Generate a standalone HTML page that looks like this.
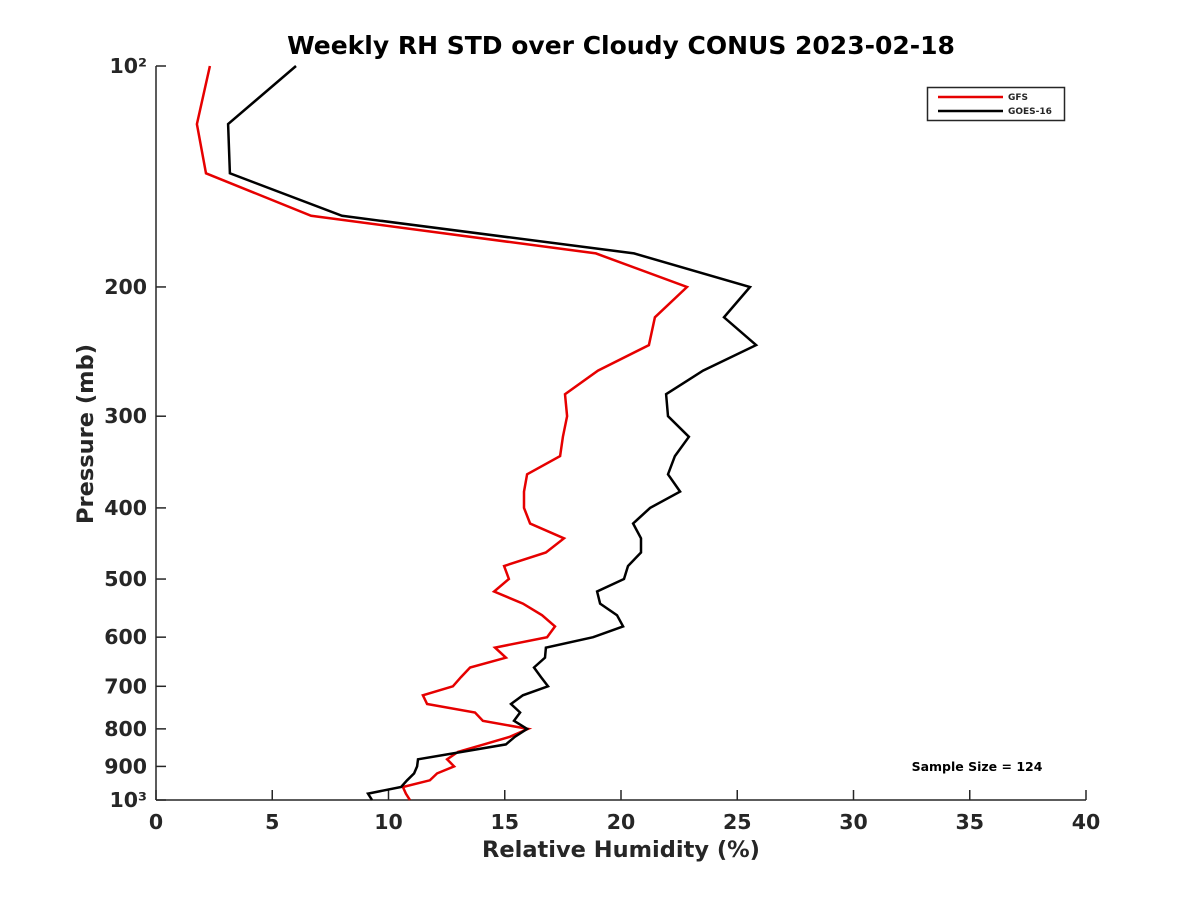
<!DOCTYPE html>
<html><head><meta charset="utf-8"><style>
html,body{margin:0;padding:0;background:#fff;}
svg text{font-family:"DejaVu Sans","Liberation Sans",sans-serif;font-weight:bold;fill:#262626;}
</style></head><body>
<svg id="chart" width="1200" height="900" xmlns="http://www.w3.org/2000/svg">
<rect width="1200" height="900" fill="#fff"/>
<text x="621" y="54" font-size="25" text-anchor="middle" style="fill:#000">Weekly RH STD over Cloudy CONUS 2023-02-18</text>
<g id="axes"></g>
<g id="series"></g>
<g>
<rect x="927.5" y="87.5" width="137" height="33" fill="#fff" stroke="#262626" stroke-width="1.5"/>
<line x1="938" y1="97" x2="1003" y2="97" stroke="#e60000" stroke-width="2.5"/>
<text x="1008" y="100" font-size="9">GFS</text>
<line x1="938" y1="111" x2="1003" y2="111" stroke="#000" stroke-width="2.5"/>
<text x="1008" y="114" font-size="9">GOES-16</text>
</g>
<text x="977" y="771" font-size="12.5" text-anchor="middle" style="fill:#000">Sample Size = 124</text>
<text x="621" y="857" font-size="22.5" text-anchor="middle">Relative Humidity (%)</text>
<text transform="translate(93,434) rotate(-90)" font-size="22.5" text-anchor="middle">Pressure (mb)</text>
</svg>
<script>
const pressureLevels = [100,120,140,160,180,200,220,240,260,280,300,320,340,360,380,400,420,440,460,480,500,520,540,560,580,600,620,640,660,680,700,720,740,760,780,800,820,840,860,880,900,920,940,960,980,1000];
const gfsValues = [2.32,1.76,2.15,6.67,18.92,22.84,21.46,21.2,19.01,17.59,17.68,17.5,17.38,15.96,15.83,15.83,16.09,17.55,16.77,14.97,15.18,14.54,15.78,16.6,17.16,16.82,14.58,15.05,13.51,13.12,12.77,11.48,11.66,13.72,14.06,16.0,15.23,14.1,12.99,12.52,12.82,12.09,11.78,10.62,10.75,10.92];
const goesValues = [6.02,3.1,3.18,8.0,20.56,25.55,24.43,25.81,23.53,21.94,22.02,22.92,22.32,22.02,22.54,21.25,20.52,20.86,20.86,20.3,20.13,18.97,19.1,19.83,20.09,18.8,16.77,16.73,16.26,16.56,16.86,15.78,15.27,15.66,15.4,15.96,15.44,15.05,13.16,11.27,11.23,11.1,10.8,10.54,9.12,9.29];
const xTicks = [0,5,10,15,20,25,30,35,40];
const yTicks = [100,200,300,400,500,600,700,800,900,1000];
const yTickLabels = ["10²","200","300","400","500","600","700","800","900","10³"];

const X0=156,X1=1086,Y0=66,Y1=800;
const xScale=v=>X0+(v-0)/(40-0)*(X1-X0);
const yScale=p=>Y0+(Math.log10(p)-2)*(Y1-Y0);
const NS="http://www.w3.org/2000/svg";
const axes=document.getElementById('axes');
const series=document.getElementById('series');
function mk(tag,attrs,parent){const e=document.createElementNS(NS,tag);for(const k in attrs)e.setAttribute(k,attrs[k]);parent.appendChild(e);return e;}

const xa=mk('line',{x1:X0,y1:Y1,x2:X1,y2:Y1,stroke:'#262626','stroke-width':1.5},axes);


const ya=mk('line',{x1:X0,y1:Y0,x2:X0,y2:Y1,stroke:'#262626','stroke-width':1.5},axes);



xTicks.forEach(v=>{
  const x=xScale(v);
  const t=mk('line',{x1:x,y1:Y1,x2:x,y2:Y1-10,stroke:'#262626','stroke-width':1.5},axes);
  
  
  const l=mk('text',{x:x,y:829,'font-size':20.5,'text-anchor':'middle'},axes);
  l.textContent=v;
  
  
});
yTicks.forEach((p,i)=>{
  const y=yScale(p);
  const t=mk('line',{x1:X0,y1:y,x2:X0+10,y2:y,stroke:'#262626','stroke-width':1.5},axes);
  
  
  const l=mk('text',{x:147,y:y+7,'font-size':20.5,'text-anchor':'end'},axes);
  l.textContent=yTickLabels[i];
  
  
});

function drawSeries(vals,color,name){
  const pts=vals.map((v,i)=>xScale(v).toFixed(1)+','+yScale(pressureLevels[i]).toFixed(1)).join(' ');
  const pl=mk('polyline',{points:pts,fill:'none',stroke:color,'stroke-width':2.5,'stroke-linejoin':'miter'},series);
  
  
}
drawSeries(gfsValues,'#e60000','gfs-line');
drawSeries(goesValues,'#000000','goes16-line');
</script>
</body></html>
